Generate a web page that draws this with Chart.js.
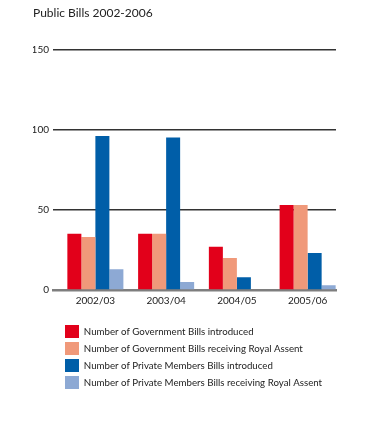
<!DOCTYPE html>
<html><head><meta charset="utf-8">
<script src="https://cdn.jsdelivr.net/npm/chart.js@4/dist/chart.umd.min.js"></script>
<style>html,body{margin:0;padding:0;background:#fff;}#wrap{width:378px;height:434px;}</style>
</head><body><div id="wrap"><canvas id="c" width="378" height="434"></canvas></div>
<script>
const title = 'Public Bills 2002-2006';
const categories = ['2002/03', '2003/04', '2004/05', '2005/06'];
const govIntroduced = [35, 35, 27, 53];
const govAssent = [33, 35, 20, 53];
const pmIntroduced = [96, 95, 8, 23];
const pmAssent = [13, 5, 0, 3];
const seriesNames = [
  'Number of Government Bills introduced',
  'Number of Government Bills receiving Royal Assent',
  'Number of Private Members Bills introduced',
  'Number of Private Members Bills receiving Royal Assent'
];
const yTicks = [0, 50, 100, 150];
const colors = ['#E2001A', '#F0997A', '#005EA8', '#8DA9D4'];

const legendShift = {
  id: 'legendShift',
  afterLayout(chart) { chart.legend.left = 61; }
};

new Chart(document.getElementById('c'), {
  type: 'bar',
  data: {
    labels: categories,
    datasets: [
      { label: '', data: categories.map(() => null), backgroundColor: 'rgba(0,0,0,0)' },
      { label: seriesNames[0], data: govIntroduced, backgroundColor: colors[0] },
      { label: seriesNames[1], data: govAssent, backgroundColor: colors[1] },
      { label: seriesNames[2], data: pmIntroduced, backgroundColor: colors[2] },
      { label: seriesNames[3], data: pmAssent, backgroundColor: colors[3] }
    ]
  },
  options: {
    responsive: false,
    animation: false,
    devicePixelRatio: 1,
    layout: { padding: { left: 33, right: 42, top: 0, bottom: 35 } },
    datasets: { bar: { barPercentage: 1.0, categoryPercentage: 0.99, borderWidth: 0 } },
    plugins: {
      title: {
        display: true, text: title, align: 'start', color: '#222',
        font: { family: 'Lato', size: 12, weight: 'normal' },
        padding: { top: 6, bottom: 29 }
      },
      legend: {
        position: 'bottom', align: 'start',
        labels: {
          filter: (item) => item.text !== '',
          boxWidth: 14, boxHeight: 13, padding: 4, color: '#222',
          font: { family: 'Lato', size: 9.7 }
        }
      },
      tooltip: { enabled: false }
    },
    scales: {
      x: {
        z: 1,
        grid: { display: false, drawTicks: false },
        border: { display: true, color: 'rgba(40,40,40,0.6)', width: 2.5 },
        ticks: { color: '#222', font: { family: 'Lato', size: 10 }, padding: 5, labelOffset: 7 },
        afterFit(scale) { scale.height += 9; }
      },
      y: {
        min: 0, max: 150,
        afterBuildTicks(scale) { scale.ticks = yTicks.map(v => ({ value: v })); },
        afterFit(scale) { scale.width = 20; },
        grid: {
          drawTicks: false,
          color: (ctx) => ctx.tick && ctx.tick.value === 0 ? 'rgba(0,0,0,0)' : '#333',
          lineWidth: 1.5
        },
        border: { display: false },
        ticks: { color: '#222', font: { family: 'Lato', size: 10 }, padding: 4 }
      }
    }
  },
  plugins: [legendShift]
});
</script></body></html>
